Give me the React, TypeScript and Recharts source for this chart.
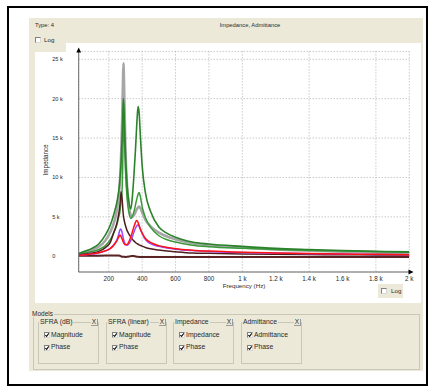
import { LineChart, Line, XAxis, YAxis, CartesianGrid } from 'recharts';

// frequency grid (Hz) shared by every trace
const freq = [
  20, 60, 100, 140, 180, 210, 230, 250, 260, 266, 270, 274, 280, 285, 288, 292, 300, 310, 320, 332,
  340, 350, 360, 366, 372, 376, 382, 390, 400, 420, 450, 500, 550, 600, 700, 800, 1000, 1200, 1400,
  1600, 1800, 2000,
];

// measured impedance (ohm)
const measured = [
  300, 550, 850, 1200, 2000, 3100, 4200, 6000, 7700, 9200, 10800, 12800, 17000, 22000, 24500, 21500,
  13500, 8800, 6400, 5200, 5000, 5200, 5600, 5900, 6100, 6200, 6300, 6100, 5600, 4600, 3800, 3000,
  2500, 2150, 1650, 1400, 1100, 850, 700, 580, 480, 400,
];
// model fits
const sfraDb = [
  350, 650, 1000, 1550, 2700, 4000, 5300, 7000, 8300, 9500, 10600, 12000, 15000, 18500, 20000, 18000,
  13000, 9000, 7000, 6000, 7200, 10000, 13500, 16000, 18200, 19000, 18200, 15000, 11500, 8000, 5700,
  3700, 2900, 2400, 1800, 1550, 1250, 1000, 850, 720, 630, 560,
];
const sfraLinear = [
  250, 420, 620, 850, 1350, 2150, 3000, 4100, 5000, 5500, 6200, 7000, 8500, 13500, 19500, 16500,
  11000, 7300, 5600, 4800, 5000, 5600, 6500, 7100, 7600, 7900, 8100, 7500, 6300, 4900, 3700, 2600,
  2100, 1800, 1400, 1200, 1000, 850, 750, 650, 580, 500,
];
const impedance = [
  150, 280, 420, 620, 1100, 1800, 3000, 4300, 5400, 6300, 7200, 8200, 7300, 5800, 5100, 4600, 3900,
  3250, 2850, 2450, 2200, 1950, 1750, 1650, 1570, 1520, 1450, 1370, 1280, 1120, 950, 780, 660, 570,
  420, 370, 290, 240, 210, 185, 165, 150,
];
const admittance = [
  100, 180, 280, 420, 680, 1000, 1450, 2150, 2800, 3300, 3450, 3400, 3000, 2500, 2200, 1900, 1500,
  1400, 1550, 2000, 2400, 3000, 3550, 3800, 3950, 3950, 3800, 3400, 2900, 2100, 1600, 1250, 1050, 900,
  720, 610, 460, 400, 330, 280, 230, 190,
];
const admittanceFit = [
  110, 200, 300, 450, 700, 1000, 1400, 2000, 2450, 2650, 2650, 2500, 2200, 1900, 1750, 1600, 1450,
  1500, 1800, 2500, 3000, 3700, 4300, 4550, 4450, 4250, 3900, 3400, 2950, 2250, 1750, 1350, 1120, 960,
  770, 650, 500, 420, 350, 290, 240, 200,
];
// phase (deg) sits on the zero line at this scale
const phase = [
  62, 70, 75, 78, 80, 82, 83, 84, 84, 60, 20, -10, -55, -70, -75, -80, -82, -80, -40, 10, 40, 20, -30,
  -60, -75, -80, -82, -84, -85, -86, -87, -88, -88, -88, -89, -89, -89, -89, -89, -89, -89, -89,
];

const xTicks = [200, 400, 600, 800, 1000, 1200, 1400, 1600, 1800, 2000];
const yTicks = [0, 5000, 10000, 15000, 20000, 25000];

const rows = freq.map((f, i) => ({
  f,
  measured: measured[i],
  sfraDb: sfraDb[i],
  sfraLinear: sfraLinear[i],
  impedance: impedance[i],
  admittance: admittance[i],
  admittanceFit: admittanceFit[i],
  phase: phase[i],
}));

const font = '"Liberation Sans", Arial, sans-serif';
const beige = '#ece9d8';
const ink = '#2a2a2a';

const fmtHz = (v: number) => (v >= 1000 ? `${v / 1000} k` : `${v}`);
const fmtOhm = (v: number) => (v === 0 ? '0' : `${v / 1000} k`);

function YTick(props: any) {
  const { x, y, payload } = props;
  return (
    <text x={x - 18.5} y={y} textAnchor="start" dominantBaseline="central" fontSize={5.6} fill={ink} fontFamily={font}>
      {fmtOhm(payload.value)}
    </text>
  );
}

function Box({ x, y, checked }: { x: number; y: number; checked?: boolean }) {
  return (
    <div
      style={{
        position: 'absolute',
        left: x,
        top: y,
        width: 6,
        height: 6,
        boxSizing: 'border-box',
        background: '#fff',
        borderTop: '1px solid #808080',
        borderLeft: '1px solid #808080',
        borderRight: '1px solid #d8d8d8',
        borderBottom: '1px solid #d8d8d8',
      }}
    >
      {checked ? (
        <svg width={6} height={6} style={{ position: 'absolute', left: -1, top: -1 }}>
          <polyline points="1.3,3 2.6,4.4 4.8,1.4" fill="none" stroke="#111" strokeWidth={1.1} />
        </svg>
      ) : null}
    </div>
  );
}

function Label({ x, y, size, children }: { x: number; y: number; size: number; children: string }) {
  return (
    <div style={{ position: 'absolute', left: x, top: y, fontSize: size, lineHeight: 1, color: ink, whiteSpace: 'nowrap' }}>
      {children}
    </div>
  );
}

const groups = [
  { title: 'SFRA (dB)', rowsText: ['Magnitude', 'Phase'], left: 38 },
  { title: 'SFRA (linear)', rowsText: ['Magnitude', 'Phase'], left: 106 },
  { title: 'Impedance', rowsText: ['Impedance', 'Phase'], left: 173 },
  { title: 'Admittance', rowsText: ['Admittance', 'Phase'], left: 241 },
];

function ModelGroup({ title, rowsText, left }: { title: string; rowsText: string[]; left: number }) {
  return (
    <>
      <div
        style={{
          position: 'absolute',
          left,
          top: 322,
          width: 61,
          height: 42,
          boxSizing: 'border-box',
          border: '1px solid #c9c7b8',
        }}
      />
      <div style={{ position: 'absolute', left: left + 1, top: 318.5, background: beige, padding: '0 1px', fontSize: 6.8, lineHeight: 1, color: ink, whiteSpace: 'nowrap' }}>
        {title}
      </div>
      <div
        style={{
          position: 'absolute',
          left: left + 53,
          top: 319,
          width: 7,
          height: 7,
          boxSizing: 'border-box',
          background: beige,
          borderRight: '1px solid #9a9a9a',
          borderBottom: '1px solid #9a9a9a',
          fontSize: 6.5,
          lineHeight: '6px',
          textAlign: 'center',
          color: ink,
        }}
      >
        X
      </div>
      {rowsText.map((t, i) => (
        <div key={t + i}>
          <Box x={left + 6} y={332 + i * 12.5} checked />
          <Label x={left + 13} y={331.5 + i * 12.5} size={6.8}>
            {t}
          </Label>
        </div>
      ))}
    </>
  );
}

export default function App() {
  return (
    <div style={{ position: 'absolute', left: 0, top: 0, width: 435, height: 392, background: '#fff', fontFamily: font, overflow: 'hidden' }}>
      <div style={{ position: 'absolute', left: 7, top: 6, width: 421, height: 380, boxSizing: 'border-box', border: '2px solid #000' }} />
      <div style={{ position: 'absolute', left: 29, top: 18, width: 394, height: 353, background: beige }} />
      {/* plot canvas */}
      <div style={{ position: 'absolute', left: 35, top: 52, width: 386, height: 251, background: '#fff' }} />
      <div style={{ position: 'absolute', left: 66, top: 43, width: 355, height: 10, background: '#fff' }} />

      <Label x={35} y={23} size={5.8}>Type: 4</Label>
      <div style={{ position: 'absolute', left: 29, top: 23, width: 442, textAlign: 'center', fontSize: 5.8, lineHeight: 1, color: ink }}>
        Impedance, Admittance
      </div>
      <Box x={35} y={37} />
      <Label x={44} y={37} size={6.2}>Log</Label>

      <LineChart
        width={435}
        height={392}
        data={rows}
        margin={{ top: 51.4, right: 25.7, bottom: 100, left: 48.7 }}
        style={{ position: 'absolute', left: 0, top: 0 }}
      >
        <CartesianGrid stroke="#b0b0b0" strokeDasharray="1 2" />
        <XAxis
          dataKey="f"
          type="number"
          domain={[20, 2000]}
          ticks={xTicks}
          tickFormatter={fmtHz}
          allowDataOverflow
          height={20}
          axisLine={{ stroke: '#6a6a6a' }}
          tickLine={false}
          tickSize={3}
          tick={{ fontSize: 6.3, fill: ink, fontFamily: font }}
        />
        <YAxis
          type="number"
          domain={[-2000, 26000]}
          ticks={yTicks}
          allowDataOverflow
          width={30}
          axisLine={{ stroke: '#6a6a6a' }}
          tickLine={false}
          tick={<YTick />}
        />
        <Line dataKey="measured" type="monotone" stroke="#a6a6a6" strokeWidth={2.6} dot={false} activeDot={false} isAnimationActive={false} />
        <Line dataKey="sfraLinear" type="monotone" stroke="#3a9a3a" strokeWidth={1.5} dot={false} activeDot={false} isAnimationActive={false} />
        <Line dataKey="sfraDb" type="monotone" stroke="#2a822a" strokeWidth={1.6} dot={false} activeDot={false} isAnimationActive={false} />
        <Line dataKey="impedance" type="monotone" stroke="#4e1e1e" strokeWidth={1.5} dot={false} activeDot={false} isAnimationActive={false} />
        <Line dataKey="phase" type="monotone" stroke="#5a2424" strokeWidth={2} dot={false} activeDot={false} isAnimationActive={false} />
        <Line dataKey="admittance" type="monotone" stroke="#9a48ff" strokeWidth={1.5} dot={false} activeDot={false} isAnimationActive={false} />
        <Line dataKey="admittanceFit" type="monotone" stroke="#ff1212" strokeWidth={1.5} dot={false} activeDot={false} isAnimationActive={false} />
      </LineChart>

      {/* axis arrows and titles */}
      <svg width={435} height={392} style={{ position: 'absolute', left: 0, top: 0, pointerEvents: 'none' }}>
        <polygon points="78.7,47.5 76.3,52.5 81.1,52.5" fill="#000" />
        <polygon points="413.5,272 408.5,269.6 408.5,274.4" fill="#000" />
        <text x={45} y={160} transform="rotate(-90 45 160)" textAnchor="middle" dominantBaseline="central" fontSize={6.3} fill={ink} fontFamily={font}>
          Impedance
        </text>
        <text x={244} y={285} textAnchor="middle" dominantBaseline="central" fontSize={6.2} fill={ink} fontFamily={font}>
          Frequency (Hz)
        </text>
      </svg>

      <div style={{ position: 'absolute', left: 378, top: 284, width: 25, height: 14, background: beige }} />
      <Box x={381} y={288} />
      <Label x={391} y={288} size={6.2}>Log</Label>

      {/* model selection */}
      <div style={{ position: 'absolute', left: 33, top: 314, width: 387, height: 56, boxSizing: 'border-box', border: '1px solid #c9c7b8' }} />
      <div style={{ position: 'absolute', left: 32, top: 310.5, background: beige, paddingRight: 1, fontSize: 6.5, lineHeight: 1, color: ink }}>
        Models
      </div>
      {groups.map((g) => (
        <ModelGroup key={g.title} {...g} />
      ))}
    </div>
  );
}
